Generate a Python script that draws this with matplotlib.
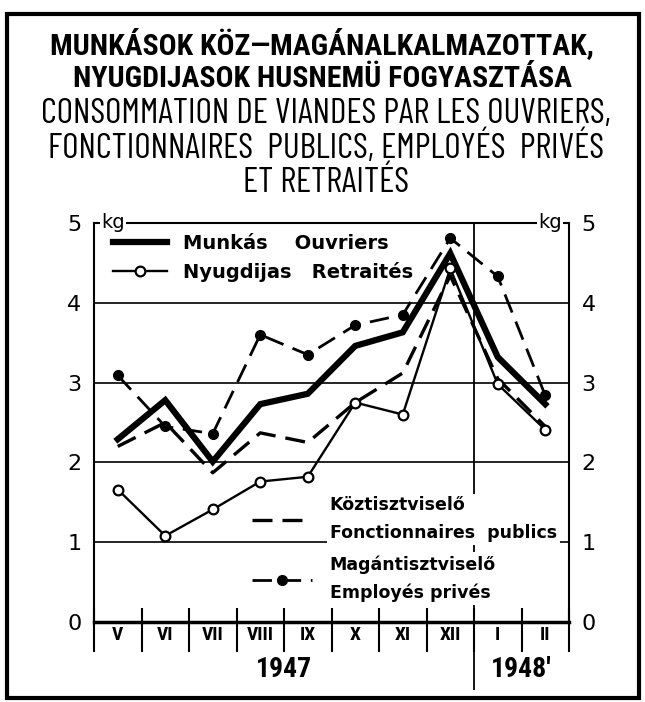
import numpy as np
import matplotlib.pyplot as plt
from matplotlib.lines import Line2D
from matplotlib.patches import Rectangle

# months (May 1947 .. Feb 1948) and kg of meat per head
months = ['V', 'VI', 'VII', 'VIII', 'IX', 'X', 'XI', 'XII', 'I', 'II']
munkas = [2.29, 2.78, 2.01, 2.73, 2.86, 3.46, 3.63, 4.62, 3.32, 2.73]
nyugdijas = [1.66, 1.08, 1.41, 1.76, 1.82, 2.75, 2.60, 4.43, 2.98, 2.41]
kozt = [2.20, 2.50, 1.87, 2.37, 2.25, 2.75, 3.12, 4.34, 3.05, 2.45]
magan = [3.09, 2.45, 2.36, 3.60, 3.35, 3.72, 3.85, 4.81, 4.33, 2.84]
years = ['1947', "1948'"]
year_split = 8  # first month of 1948

title_hu = ['MUNKÁSOK KÖZ—MAGÁNALKALMAZOTTAK,', 'NYUGDIJASOK HUSNEMÜ FOGYASZTÁSA']
title_fr = ['CONSOMMATION DE VIANDES PAR LES OUVRIERS,',
            'FONCTIONNAIRES  PUBLICS, EMPLOYÉS  PRIVÉS', 'ET RETRAITÉS']

cond = ['Roboto Condensed', 'DejaVu Sans']
narrow = ['Barlow Condensed', 'DejaVu Sans']

fig = plt.figure(figsize=(6.45, 7.02), dpi=100)
ax = fig.add_axes([94 / 645, 1 - 622 / 702, 475 / 645, 399 / 702])

x = np.arange(len(months))

# series
ax.plot(x, munkas, color='black', lw=4.5, solid_joinstyle='miter', zorder=4)
ax.plot(x, kozt, color='black', lw=2.4, dashes=(6, 3), zorder=3)
ax.plot(x, magan, color='black', lw=2.0, dashes=(7, 3.5), marker='o', ms=7,
        mfc='black', mec='black', zorder=3)
ax.plot(x, nyugdijas, color='black', lw=1.7, marker='o', ms=7, mfc='white',
        mec='black', mew=1.6, zorder=5)

ax.set_xlim(-0.5, len(months) - 0.5)
ax.set_ylim(0, 5)
ax.set_yticks(range(6))
ax.yaxis.grid(True, color='black', lw=1.2)
ax.set_axisbelow(True)
ax.tick_params(axis='y', length=0, labelsize=16, labelright=True, pad=9)
ax.set_xticks(x)
ax.set_xticklabels(months, fontsize=14, fontweight='bold', family=cond)
ax.tick_params(axis='x', length=0, pad=3)
for s in ax.spines.values():
    s.set_linewidth(1.5)
ax.spines['bottom'].set_linewidth(2.5)

# month separators crossing the base line
bounds = np.arange(len(months) + 1) - 0.5
ax.vlines(bounds, -0.38, 0.17, color='black', lw=1.5, clip_on=False)
ax.vlines(year_split - 0.5, -0.85, 5, color='black', lw=1.3, clip_on=False, zorder=1)

# year labels
ax.text((year_split - 1) / 2, -0.6, years[0], ha='center', va='center',
        fontsize=20, fontweight='bold', family=cond)
ax.text((year_split + len(months) - 1) / 2, -0.6, years[1], ha='center',
        va='center', fontsize=20, fontweight='bold', family=cond)

# kg units on the top line
for xa, ha in [(0.015, 'left'), (0.985, 'right')]:
    ax.text(xa, 1.0, 'kg', transform=ax.transAxes, ha=ha, va='center',
            fontsize=14, bbox=dict(fc='white', ec='none', pad=1), zorder=6)

# legends
h1 = [Line2D([], [], color='black', lw=4.5),
      Line2D([], [], color='black', lw=1.7, marker='o', ms=7, mfc='white',
             mec='black', mew=1.6, markevery=[0, -1])]
leg1 = ax.legend(h1, ['Munkás    Ouvriers', 'Nyugdijas   Retraités'],
                 loc='upper left', bbox_to_anchor=(0.04, 0.972), frameon=False,
                 prop={'size': 14, 'weight': 'bold'}, handlelength=2.8,
                 handletextpad=0.8, labelspacing=0.45, borderpad=0,
                 borderaxespad=0)
ax.add_artist(leg1)

h2 = [Line2D([], [], color='black', lw=2.4, dashes=(6, 3)),
      Line2D([], [], color='black', lw=2.0, dashes=(7, 3.5), marker='o', ms=7,
             markevery=[0, -1])]
leg2 = ax.legend(h2, ['Köztisztviselő\nFonctionnaires  publics',
                      'Magántisztviselő\nEmployés privés'],
                 loc='upper left', bbox_to_anchor=(0.332, 0.315), frameon=False,
                 prop={'size': 12.5, 'weight': 'bold'}, handlelength=3.5,
                 handletextpad=1.0, labelspacing=0.75, borderpad=0,
                 borderaxespad=0)
for t in leg2.get_texts():
    t.set_bbox(dict(fc='white', ec='none', pad=2))
    t.set_linespacing(1.7)
leg2.set_zorder(7)

# titles
y_hu = [44, 79]
for yy, s in zip(y_hu, title_hu):
    fig.text(0.5, 1 - yy / 702, s, ha='center', va='center', fontsize=21.5,
             fontweight='bold', family=cond)
y_fr = [114, 148, 183]
for yy, s in zip(y_fr, title_fr):
    fig.text(0.505, 1 - yy / 702, s, ha='center', va='center', fontsize=25.5,
             family=narrow)

# outer frame
fig.patches.append(Rectangle((7 / 645, 4 / 702), 632 / 645, 684 / 702,
                             transform=fig.transFigure, fill=False,
                             lw=3, ec='black'))

fig.savefig('out.png', dpi=100)
